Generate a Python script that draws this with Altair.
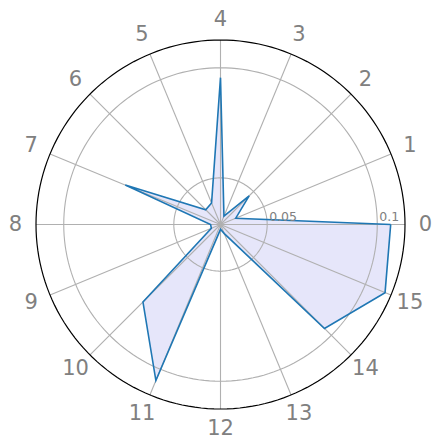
import altair as alt
import pandas as pd

# ---- data ----
directions = list(range(16))
direction_labels = [str(d) for d in directions]
values = [0.1061, 0.0363, 0.0472, 0.0329, 0.0955, 0.0394, 0.0383, 0.0756,
          0.0333, 0.0333, 0.0786, 0.1055, 0.0310, 0.0333, 0.0956, 0.1097]
grid_values = [0.05, 0.1]
grid_labels = ["0.05", "0.1"]
r_min = 0.0288
r_max = 0.1126

N = len(directions)
span = r_max - r_min

poly = pd.DataFrame({
    "dir": directions + [directions[0]],
    "value": values + [values[0]],
    "order": list(range(N + 1)),
})
dirs_df = pd.DataFrame({"dir": directions, "label": direction_labels})
grid_df = pd.DataFrame({"gv": grid_values, "label": grid_labels})

sc = alt.Scale(domain=[-1, 1], nice=False, zero=False)


def X(f):
    return alt.X(f, type="quantitative", scale=sc, axis=None)


def Y(f):
    return alt.Y(f, type="quantitative", scale=sc, axis=None)


theta_expr = f"datum.dir * 2 * PI / {N}"
rr_expr = f"max(0, (datum.value - {r_min}) / {span})"

base_poly = (
    alt.Chart(poly)
    .transform_calculate(theta=theta_expr, rr=rr_expr)
    .transform_calculate(px="datum.rr * cos(datum.theta)",
                         py="datum.rr * sin(datum.theta)")
)

fill = base_poly.mark_line(fill="#e6e6fa", strokeOpacity=0).encode(
    x=X("px"), y=Y("py"), order=alt.Order("order:Q"))

line = base_poly.mark_line(color="#1f77b4", strokeWidth=1.6).encode(
    x=X("px"), y=Y("py"), order=alt.Order("order:Q"))


def circle(rr_value, color, width):
    return (
        alt.Chart(alt.sequence(0, 361, 2, as_="deg"))
        .transform_calculate(rr=f"{rr_value}")
        .transform_calculate(px="datum.rr * cos(datum.deg * PI / 180)",
                             py="datum.rr * sin(datum.deg * PI / 180)")
        .mark_line(color=color, strokeWidth=width)
        .encode(x=X("px"), y=Y("py"), order=alt.Order("deg:Q"))
    )


grid_circles = [circle(f"({gv} - {r_min}) / {span}", "#b0b0b0", 1.1) for gv in grid_values]
outer = circle("1", "#000000", 1.2)

spokes = (
    alt.Chart(dirs_df)
    .transform_calculate(theta=theta_expr)
    .transform_calculate(zero="0", ex="cos(datum.theta)", ey="sin(datum.theta)")
    .mark_rule(color="#b0b0b0", strokeWidth=1.1)
    .encode(x=X("zero"), y=Y("zero"), x2=alt.X2("ex:Q"), y2=alt.Y2("ey:Q"))
)

dir_text = (
    alt.Chart(dirs_df)
    .transform_calculate(theta=theta_expr)
    .transform_calculate(px="1.111 * cos(datum.theta)", py="1.111 * sin(datum.theta)")
    .mark_text(font="DejaVu Sans", fontSize=21, color="#808080",
               align="center", baseline="middle")
    .encode(x=X("px"), y=Y("py"), text="label:N")
)

tick_text = (
    alt.Chart(grid_df)
    .transform_calculate(px=f"(datum.gv - {r_min}) / {span}", py="0")
    .mark_text(font="DejaVu Sans", fontSize=12.5, color="#808080",
               align="left", baseline="alphabetic", dx=2, dy=-3.5)
    .encode(x=X("px"), y=Y("py"), text="label:N")
)

chart = (
    alt.layer(fill, *grid_circles, spokes, outer, line, tick_text, dir_text)
    .properties(
        width=369, height=369,
        padding={"left": 28, "top": 32, "right": 28, "bottom": 31},
        autosize=alt.AutoSizeParams(type="none"),
        background="white",
    )
    .configure_view(stroke=None)
)

chart.save("out.html", embed_options={"renderer": "svg", "actions": False})
